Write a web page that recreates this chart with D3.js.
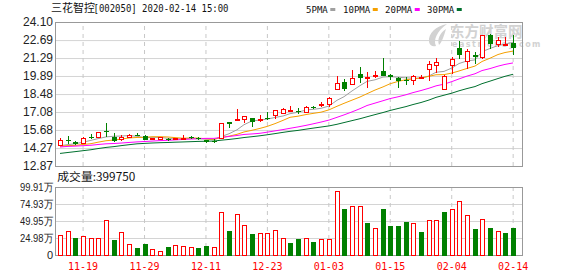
<!DOCTYPE html>
<html>
<head>
<meta charset="utf-8">
<script src="https://cdn.jsdelivr.net/npm/d3@7"></script>
<style>
  body { margin: 0; background: #fff; }
  svg { display: block; }
</style>
</head>
<body>
<svg id="chart"></svg>
<script>
// trading days shown (MM-DD), 2019-11-14 .. 2020-02-14
const dates = ['11-14','11-15','11-18','11-19','11-20','11-21','11-22','11-25','11-26','11-27','11-28','11-29',
  '12-02','12-03','12-04','12-05','12-06','12-09','12-10','12-11','12-12','12-13','12-16','12-17','12-18','12-19','12-20',
  '12-23','12-24','12-25','12-26','12-27','12-30','12-31',
  '01-02','01-03','01-06','01-07','01-08','01-09','01-10','01-13','01-14','01-15','01-16','01-17','01-20','01-21','01-22','01-23',
  '02-03','02-04','02-05','02-06','02-07','02-10','02-11','02-12','02-13','02-14'];

const openP = [14.43,14.92,14.77,14.59,15.12,15.11,15.58,15.16,14.91,15.08,
  15.30,15.21,14.95,14.92,14.98,14.90,14.99,15.16,15.05,14.88,
  14.84,15.03,16.30,16.48,16.46,16.59,16.48,16.62,16.77,17.00,
  17.15,17.14,17.03,17.50,17.62,17.70,18.85,19.40,19.25,20.02,
  19.72,19.88,20.28,19.97,19.76,19.55,19.52,19.70,20.36,20.69,
  18.87,20.67,22.10,21.03,21.55,21.37,23.06,22.33,22.33,22.49];
const highP = [15.08,15.21,14.84,15.13,15.34,15.52,16.25,15.45,15.29,15.37,
  15.47,15.25,15.06,15.10,15.02,15.03,15.29,15.20,15.10,14.92,
  14.98,16.25,16.33,17.29,16.77,16.62,16.85,17.10,17.25,17.36,
  17.57,17.37,17.52,17.58,17.85,18.23,19.90,19.63,20.36,20.62,
  20.18,20.28,21.31,20.02,19.79,19.84,19.99,19.97,21.06,21.31,
  19.95,21.37,22.60,22.02,21.76,23.12,23.19,22.93,22.93,23.06];
const lowP = [14.40,14.56,14.50,14.56,15.00,15.05,15.16,14.75,14.82,15.03,
  15.18,14.88,14.93,14.88,14.84,14.86,14.97,15.00,14.90,14.68,
  14.66,15.00,15.85,16.45,16.23,15.93,16.33,16.46,16.50,16.96,
  17.12,16.93,16.98,17.30,17.50,17.50,18.85,18.72,19.19,19.32,
  18.98,19.71,19.88,19.58,18.93,19.19,19.19,19.65,19.50,20.09,
  18.80,20.07,21.25,20.46,20.85,21.24,22.02,22.15,22.33,21.50];
const closeP = [14.82,14.84,14.59,15.03,15.08,15.47,15.52,14.85,15.12,15.24,
  15.22,14.92,15.04,15.08,14.88,14.98,15.04,15.06,14.98,14.74,
  14.80,16.22,16.18,16.53,16.72,16.28,16.53,16.56,17.18,17.29,
  17.18,17.10,17.45,17.42,17.68,18.10,19.32,18.85,19.66,19.76,
  19.74,19.95,19.91,19.84,19.52,19.50,19.84,19.80,20.80,20.96,
  19.84,21.19,21.52,21.81,21.37,23.06,22.41,22.67,22.36,22.07];

// closes before the first visible day (read back from where the MA lines start)
const prevCloses = [12.62,12.70,12.75,12.80,12.78,12.85,12.90,12.95,13.00,13.15,
  13.85,14.20,14.35,14.40,14.30,14.45,14.38,14.42,14.30,14.35,
  14.28,14.40,14.32,14.45,14.32,14.38,14.30,14.40,14.35];

// volume, in 万
const volumes = [28.7,35.0,24.8,27.3,24.3,24.3,50.6,21.9,33.1,15.6,
  10.2,15.6,8.3,5.4,11.2,14.1,12.7,11.2,10.2,13.1,
  11.2,62.8,35.0,59.9,43.3,30.7,31.6,31.6,36.0,24.3,
  17.5,23.4,24.8,19.0,23.4,23.4,93.4,67.2,71.1,71.1,
  47.2,39.4,67.2,42.3,42.3,48.2,46.7,34.1,50.6,50.6,
  62.8,67.2,78.8,58.4,38.0,52.6,39.4,35.0,32.6,39.975];

const priceTicks = [24.10, 22.69, 21.29, 19.89, 18.48, 17.08, 15.68, 14.27, 12.87];
const volTicks = [99.91, 74.93, 49.95, 24.98, 0];
const dateTicks = ['11-19','11-29','12-11','12-23','01-03','01-15','02-04','02-14'];

const maPeriods = [5, 10, 20, 30];
const maNames = ['5PMA', '10PMA', '20PMA', '30PMA'];
const maColors = ['#a0a0a0', '#f5a000', '#ff00ff', '#00702e'];

const width = 578, height = 276;
const left = 55, right = 522;
const pTop = 22, pBottom = 166;
const vTop = 187, vBottom = 255;
const RED = '#ff0000', GREEN = '#008000', GRID = '#d4d4d4';

const svg = d3.select('#chart').attr('width', width).attr('height', height);

const x = d3.scaleBand().domain(dates).range([56.2, 517]).padding(0);
const cx = d => Math.round(x(d) + x.bandwidth() / 2);
const y = d3.scaleLinear().domain([12.87, 24.10]).range([pBottom, pTop]);
const yv = d3.scaleLinear().domain([0, 99.91]).range([vBottom, vTop]);

// ---- grids
let gridH = (scale, ticks) => d3.axisLeft(scale).tickValues(ticks).tickSize(-(right - left)).tickFormat('');
let gridV = (h) => d3.axisBottom(x).tickValues(dateTicks).tickSize(-h).tickFormat('');

[[y, priceTicks], [yv, volTicks]].forEach(([s, t]) => {
  svg.append('g')
    .attr('transform', 'translate(' + left + ',0)')
    .call(gridH(s, t))
    .call(g => g.select('.domain').remove())
    .selectAll('line').attr('stroke', GRID);
});
[[pBottom, pBottom - pTop], [vBottom, vBottom - vTop]].forEach(([b, h]) => {
  svg.append('g')
    .attr('transform', 'translate(0,' + b + ')')
    .call(gridV(h))
    .call(g => g.select('.domain').remove())
    .selectAll('line').attr('stroke', '#c8c8c8').attr('stroke-dasharray', '4,4');
});

// ---- watermark
let wm = svg.append('g').attr('fill', '#d2d2d2');
wm.append('path')
  .attr('d', 'M447,24 C436,26 428,33 429,42 C430,46 433,47 436,46 C433,40 437,31 447,24 Z M446,29 C440,33 437,39 439,45 C442,42 444,36 446,29 Z');
wm.append('text').attr('x', 450).attr('y', 37)
  .style('font', 'bold 14.5px "Noto Sans CJK SC"').text('东方财富网');
wm.append('text').attr('x', 452).attr('y', 46.5)
  .style('font', 'bold 8px "DejaVu Sans"').attr('letter-spacing', 1.5).text('eastmoney.com');

// ---- frames
[[pTop, pBottom], [vTop, vBottom]].forEach(([t, b]) => {
  svg.append('rect')
    .attr('x', left + 0.5).attr('y', t + 0.5)
    .attr('width', right - left).attr('height', b - t)
    .attr('fill', 'none').attr('stroke', '#999');
});

// ---- moving averages
const allCloses = prevCloses.concat(closeP);
const offset = prevCloses.length;
maPeriods.forEach((n, k) => {
  let vals = closeP.map((c, i) => d3.mean(allCloses.slice(offset + i - n + 1, offset + i + 1)));
  let line = d3.line().x((v, i) => cx(dates[i])).y(v => y(v));
  svg.append('path').datum(vals)
    .attr('d', line).attr('fill', 'none')
    .attr('stroke', maColors[k]).attr('stroke-width', 1);
});

// ---- candles
const candles = svg.append('g').attr('shape-rendering', 'crispEdges');
dates.forEach((d, i) => {
  let c = cx(d);
  let o = openP[i], cl = closeP[i], hi = highP[i], lo = lowP[i];
  let up = cl >= o;
  let col = up ? RED : GREEN;
  let top = y(Math.max(o, cl)), bot = y(Math.min(o, cl));
  if (up) {
    candles.append('line').attr('x1', c + 0.5).attr('x2', c + 0.5)
      .attr('y1', y(hi)).attr('y2', top).attr('stroke', col);
    candles.append('line').attr('x1', c + 0.5).attr('x2', c + 0.5)
      .attr('y1', bot).attr('y2', y(lo)).attr('stroke', col);
    candles.append('rect').attr('x', c - 1.5).attr('y', top)
      .attr('width', 4).attr('height', Math.max(bot - top, 1))
      .attr('fill', '#fff').attr('stroke', col);
  } else {
    candles.append('line').attr('x1', c + 0.5).attr('x2', c + 0.5)
      .attr('y1', y(hi)).attr('y2', y(lo)).attr('stroke', col);
    candles.append('rect').attr('x', c - 2).attr('y', top)
      .attr('width', 5).attr('height', Math.max(bot - top, 1))
      .attr('fill', col);
  }
});

// ---- volume bars (colour by close vs previous close)
const bars = svg.append('g').attr('shape-rendering', 'crispEdges');
volumes.forEach((v, i) => {
  let prev = i === 0 ? prevCloses[prevCloses.length - 1] : closeP[i - 1];
  let up = closeP[i] >= prev;
  let c = cx(dates[i]);
  if (up) {
    bars.append('rect').attr('x', c - 1.5).attr('y', yv(v))
      .attr('width', 4).attr('height', vBottom - yv(v))
      .attr('fill', '#fff').attr('stroke', RED);
  } else {
    bars.append('rect').attr('x', c - 2).attr('y', yv(v))
      .attr('width', 5).attr('height', vBottom - yv(v) + 0.5)
      .attr('fill', GREEN);
  }
});

// ---- axes labels
svg.append('g')
  .attr('transform', 'translate(' + left + ',0)')
  .call(d3.axisLeft(y).tickValues(priceTicks).tickSize(0).tickPadding(2).tickFormat(d3.format('.2f')))
  .call(g => g.select('.domain').remove())
  .selectAll('text').style('font', '12px "Liberation Sans"').attr('fill', '#222');

svg.append('g')
  .attr('transform', 'translate(' + left + ',0)')
  .call(d3.axisLeft(yv).tickValues(volTicks).tickSize(0).tickPadding(2)
    .tickFormat(v => v === 0 ? '0' : d3.format('.2f')(v) + '万'))
  .call(g => g.select('.domain').remove())
  .selectAll('text').style('font', '11px "Liberation Sans"').attr('fill', '#222')
  .each(function (v) { if (v !== 0) d3.select(this).attr('textLength', 33).attr('lengthAdjust', 'spacingAndGlyphs'); });

svg.append('g')
  .attr('transform', 'translate(0,' + vBottom + ')')
  .call(d3.axisBottom(x).tickValues(dateTicks).tickSize(0).tickPadding(7.5))
  .call(g => g.select('.domain').remove())
  .selectAll('text').style('font', '10px "DejaVu Sans Mono"').attr('fill', RED);

// ---- header
svg.append('text').attr('x', 51).attr('y', 12.3)
  .style('font', '11px "Noto Sans CJK SC"').attr('fill', '#111').text('三花智控');
svg.append('text').attr('x', 93.5).attr('y', 12.3)
  .style('font', '10px "DejaVu Sans Mono"').attr('fill', '#111')
  .attr('textLength', 135).attr('lengthAdjust', 'spacingAndGlyphs')
  .text('[002050] 2020-02-14 15:00');

const legendX = [306, 343, 385, 427];
const legend = svg.append('g');
maNames.forEach((name, k) => {
  legend.append('text').attr('x', legendX[k]).attr('y', 12.5)
    .style('font', '9.5px "DejaVu Sans Mono"').attr('fill', '#111')
    .attr('textLength', name.length * 5.45).attr('lengthAdjust', 'spacingAndGlyphs')
    .text(name);
  legend.append('rect').attr('x', legendX[k] + name.length * 5.45 + 2.5).attr('y', 8)
    .attr('width', 5).attr('height', 3).attr('fill', maColors[k]);
});

svg.append('text').attr('x', 57.3).attr('y', 181)
  .style('font', '11.5px "Noto Sans CJK SC"').attr('fill', '#111')
  .attr('textLength', 78).attr('lengthAdjust', 'spacingAndGlyphs')
  .text('成交量:' + d3.format('d')(volumes[volumes.length - 1] * 10000));
</script>
</body>
</html>
